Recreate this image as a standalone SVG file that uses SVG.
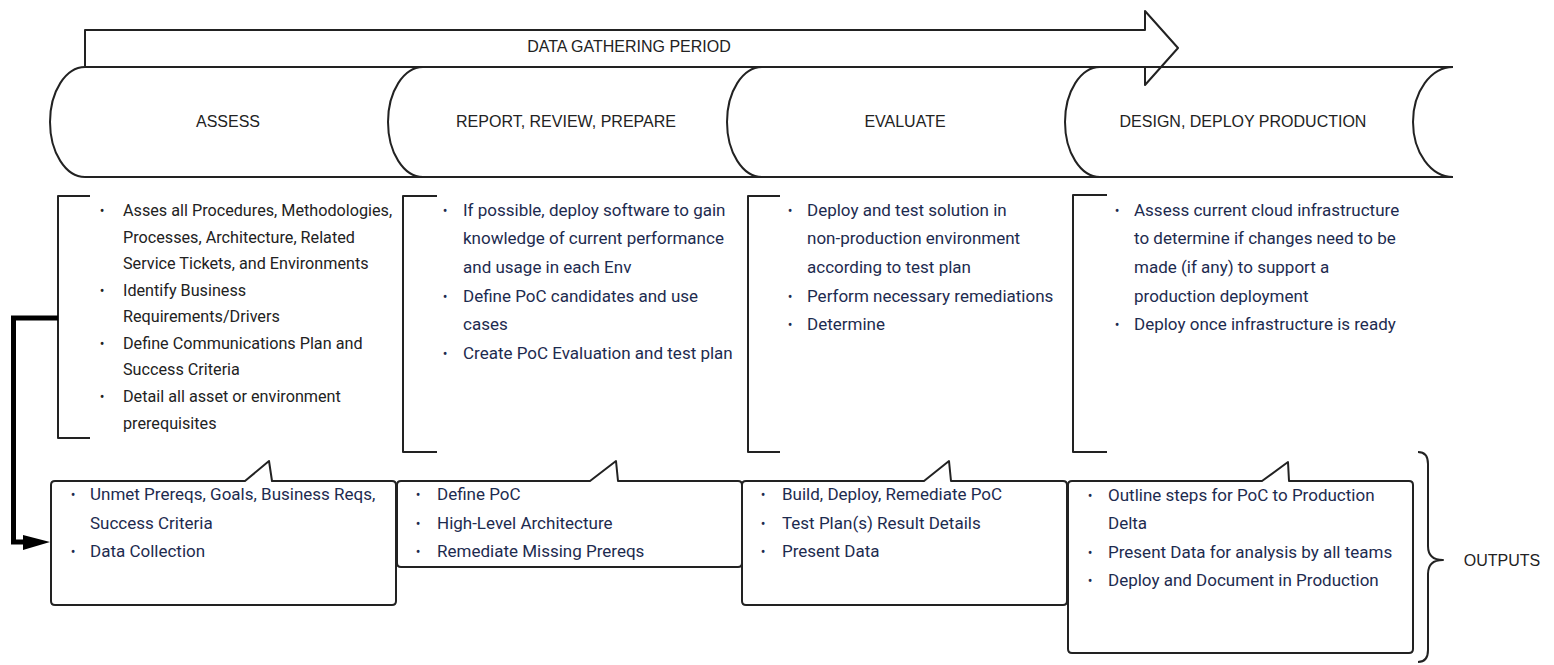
<svg xmlns="http://www.w3.org/2000/svg" width="1554" height="665" viewBox="0 0 1554 665">
<defs>
<style>
.ln{fill:none;stroke:#222;stroke-width:2;stroke-linejoin:round}
.wf{fill:#fff;stroke:#222;stroke-width:2;stroke-linejoin:round}
.hd{font-family:"Liberation Sans",Arial,sans-serif;font-size:16px;fill:#222;text-anchor:middle}
.bt{font-family:Roboto,"Noto Sans",sans-serif;font-size:17px;fill:#1d2b4f}
.b1{font-family:Roboto,"Noto Sans",sans-serif;font-size:16.2px;fill:#222}
.bu{font-family:Roboto,"Noto Sans",sans-serif;font-size:14px;fill:#1d2b4f;text-anchor:middle}
</style>
</defs>
<rect width="1554" height="665" fill="#fff"/>

<g id="period-arrow">
<path class="wf" d="M85,66 L85,30 L1145,30 L1145,11 L1178,48 L1145,85 L1145,66"/>
<text class="hd" x="629" y="52">DATA GATHERING PERIOD</text>
</g>

<g id="stage-assess">
<path class="ln" d="M85,67 H423 M85,177 H423 M85,67 A35,55 0 0 0 85,177"/>
<text class="hd" x="228" y="127">ASSESS</text>
</g>
<g id="stage-report">
<path class="ln" d="M423,67 H762 M423,177 H762 M423,67 A35,55 0 0 0 423,177"/>
<text class="hd" x="566" y="127">REPORT, REVIEW, PREPARE</text>
</g>
<g id="stage-evaluate">
<path class="ln" d="M762,67 H1100 M762,177 H1100 M762,67 A35,55 0 0 0 762,177"/>
<text class="hd" x="905" y="127">EVALUATE</text>
</g>
<g id="stage-design">
<path class="ln" d="M1100,67 H1453 M1100,177 H1453 M1100,67 A35,55 0 0 0 1100,177 M1453,67 A40,55 0 0 0 1453,177"/>
<text class="hd" x="1243" y="127">DESIGN, DEPLOY PRODUCTION</text>
</g>

<g id="tasks-assess">
<path class="ln" d="M90,196 H58 V438 H90"/>
<g class="bu" style="fill:#222">
<text x="102" y="216">•</text><text x="102" y="296">•</text><text x="102" y="349">•</text><text x="102" y="402">•</text>
</g>
<g class="b1">
<text x="123" y="216">Asses all Procedures, Methodologies,</text>
<text x="123" y="243">Processes, Architecture, Related</text>
<text x="123" y="269">Service Tickets, and Environments</text>
<text x="123" y="296">Identify Business</text>
<text x="123" y="322">Requirements/Drivers</text>
<text x="123" y="349">Define Communications Plan and</text>
<text x="123" y="375">Success Criteria</text>
<text x="123" y="402">Detail all asset or environment</text>
<text x="123" y="429">prerequisites</text>
</g>
</g>

<g id="tasks-report">
<path class="ln" d="M437,196 H403 V452 H437"/>
<g class="bu">
<text x="445" y="216">•</text><text x="445" y="302">•</text><text x="445" y="359">•</text>
</g>
<g class="bt">
<text x="463" y="216">If possible, deploy software to gain</text>
<text x="463" y="244">knowledge of current performance</text>
<text x="463" y="273">and usage in each Env</text>
<text x="463" y="302">Define PoC candidates and use</text>
<text x="463" y="330">cases</text>
<text x="463" y="359">Create PoC Evaluation and test plan</text>
</g>
</g>

<g id="tasks-evaluate">
<path class="ln" d="M780,196 H748 V452 H780"/>
<g class="bu">
<text x="790" y="216">•</text><text x="790" y="302">•</text><text x="790" y="330">•</text>
</g>
<g class="bt">
<text x="807" y="216">Deploy and test solution in</text>
<text x="807" y="244">non-production environment</text>
<text x="807" y="273">according to test plan</text>
<text x="807" y="302">Perform necessary remediations</text>
<text x="807" y="330">Determine</text>
</g>
</g>

<g id="tasks-design">
<path class="ln" d="M1107,195 H1073 V452 H1107"/>
<g class="bu">
<text x="1117" y="216">•</text><text x="1117" y="330">•</text>
</g>
<g class="bt">
<text x="1134" y="216">Assess current cloud infrastructure</text>
<text x="1134" y="244">to determine if changes need to be</text>
<text x="1134" y="273">made (if any) to support a</text>
<text x="1134" y="302">production deployment</text>
<text x="1134" y="330">Deploy once infrastructure is ready</text>
</g>
</g>

<g id="output-assess">
<path class="wf" d="M55,481 H245 L269,461 L272,481 H392 Q396,481 396,485 V601 Q396,605 392,605 H55 Q51,605 51,601 V485 Q51,481 55,481 Z"/>
<g class="bu"><text x="73" y="500">•</text><text x="73" y="557">•</text></g>
<g class="bt">
<text x="90" y="500">Unmet Prereqs, Goals, Business Reqs,</text>
<text x="90" y="529">Success Criteria</text>
<text x="90" y="557">Data Collection</text>
</g>
</g>

<g id="output-report">
<path class="wf" d="M401,481 H590 L616,461 L618,481 H738 Q742,481 742,485 V563 Q742,567 738,567 H401 Q397,567 397,563 V485 Q397,481 401,481 Z"/>
<g class="bu"><text x="418" y="500">•</text><text x="418" y="529">•</text><text x="418" y="557">•</text></g>
<g class="bt">
<text x="437" y="500">Define PoC</text>
<text x="437" y="529">High-Level Architecture</text>
<text x="437" y="557">Remediate Missing Prereqs</text>
</g>
</g>

<g id="output-evaluate">
<path class="wf" d="M746,481 H924 L949,461 L951,481 H1063 Q1067,481 1067,485 V601 Q1067,605 1063,605 H746 Q742,605 742,601 V485 Q742,481 746,481 Z"/>
<g class="bu"><text x="763" y="500">•</text><text x="763" y="529">•</text><text x="763" y="557">•</text></g>
<g class="bt">
<text x="782" y="500">Build, Deploy, Remediate PoC</text>
<text x="782" y="529">Test Plan(s) Result Details</text>
<text x="782" y="557">Present Data</text>
</g>
</g>

<g id="output-design">
<path class="wf" d="M1072,481 H1262 L1288,462 L1289,481 H1409 Q1413,481 1413,485 V649 Q1413,653 1409,653 H1072 Q1068,653 1068,649 V485 Q1068,481 1072,481 Z"/>
<g class="bu"><text x="1090" y="501">•</text><text x="1090" y="558">•</text><text x="1090" y="586">•</text></g>
<g class="bt">
<text x="1108" y="501">Outline steps for PoC to Production</text>
<text x="1108" y="529">Delta</text>
<text x="1108" y="558">Present Data for analysis by all teams</text>
<text x="1108" y="586">Deploy and Document in Production</text>
</g>
</g>

<g id="outputs-label">
<path class="ln" d="M1418,452 Q1428,452 1428,464 V546 Q1428,560 1443,560 Q1428,560 1428,574 V650 Q1428,662 1418,662"/>
<text class="hd" x="1502" y="566">OUTPUTS</text>
</g>

<g id="connectors">
<path d="M58,318 H13.5 V542 H30" fill="none" stroke="#000" stroke-width="5" stroke-linejoin="miter"/>
<path d="M23,535 L50,542 L23,550 Z" fill="#000"/>
</g>
</svg>
